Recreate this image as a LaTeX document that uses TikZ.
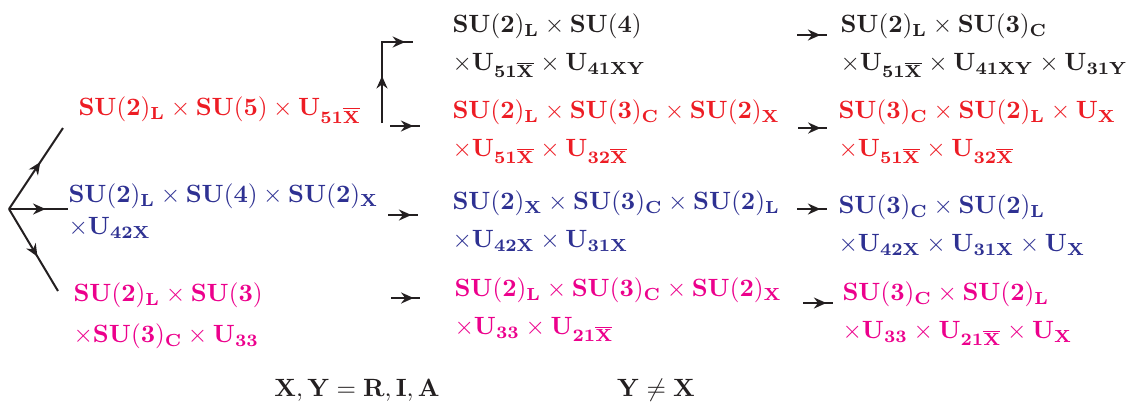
\documentclass[tikz,border=0pt]{standalone}
\usepackage{amsmath,amssymb}
\usepackage{xcolor}
\usepackage{tikz}
\usetikzlibrary{decorations.markings,arrows.meta}
\definecolor{symred}{RGB}{237,28,36}
\definecolor{symblue}{RGB}{46,49,146}
\definecolor{sympink}{RGB}{236,0,140}
\definecolor{symblack}{RGB}{35,31,32}
\begin{document}
\begin{tikzpicture}[
  x=0.4pt,y=-0.4pt,
  >={Stealth[length=5pt,width=4.4pt]},
  grp/.style={anchor=west,inner sep=0pt,align=left,text=#1},
  flow/.style={thick,symblack,postaction={decorate},
    decoration={markings,mark=at position #1 with {\arrow{>}}}},
  flow/.default=0.78,
  note/.style={inner sep=0pt,text=symblack}
]
\useasboundingbox (0,0) rectangle (1126,403);
\node[grp=symred] (r1) at (78,110) {$\mathbf{SU(2)_L\times SU(5)\times U_{51\overline{X}}}$};
\node[grp=symblack] (k2) at (452,46) {$\mathbf{SU(2)_L\times SU(4)}$\\[3pt]$\mathbf{\times U_{51\overline{X}}\times U_{41XY}}$};
\node[grp=symblack] (k3) at (840,46) {$\mathbf{SU(2)_L\times SU(3)_C}$\\[3pt]$\mathbf{\times U_{51\overline{X}}\times U_{41XY}\times U_{31Y}}$};
\node[grp=symred] (r2) at (452,132) {$\mathbf{SU(2)_L\times SU(3)_C\times SU(2)_X}$\\[3pt]$\mathbf{\times U_{51\overline{X}}\times U_{32\overline{X}}}$};
\node[grp=symred] (r3) at (838,132) {$\mathbf{SU(3)_C\times SU(2)_L\times U_X}$\\[3pt]$\mathbf{\times U_{51\overline{X}}\times U_{32\overline{X}}}$};
\node[grp=symblue] (b1) at (68,211) {$\mathbf{SU(2)_L\times SU(4)\times SU(2)_X}$\\[1pt]$\mathbf{\times U_{42X}}$};
\node[grp=symblue] (b2) at (452,221) {$\mathbf{SU(2)_X\times SU(3)_C\times SU(2)_L}$\\[3pt]$\mathbf{\times U_{42X}\times U_{31X}}$};
\node[grp=symblue] (b3) at (838,225) {$\mathbf{SU(3)_C\times SU(2)_L}$\\[3pt]$\mathbf{\times U_{42X}\times U_{31X}\times U_X}$};
\node[grp=sympink] (m1) at (73,316) {$\mathbf{SU(2)_L\times SU(3)}$\\[4.5pt]$\mathbf{\times SU(3)_C\times U_{33}}$};
\node[grp=sympink] (m2) at (454,310) {$\mathbf{SU(2)_L\times SU(3)_C\times SU(2)_X}$\\[3pt]$\mathbf{\times U_{33}\times U_{21\overline{X}}}$};
\node[grp=sympink] (m3) at (842,314) {$\mathbf{SU(3)_C\times SU(2)_L}$\\[3pt]$\mathbf{\times U_{33}\times U_{21\overline{X}}\times U_X}$};
\node[note] (xy) at (357,390) {$\mathbf{X,Y=R,I,A}$};
\node[note] (ynx) at (656,390) {$\mathbf{Y\neq X}$};
\coordinate (f0) at (9,209);
\coordinate (f1) at (63,128);
\coordinate (f2) at (68,209);
\coordinate (f3) at (58,291);
\coordinate (e0) at (382,123);
\coordinate (e1) at (382,42);
\coordinate (e2) at (413,42);
\draw[flow=0.58] (f0) -- (f1);
\draw[flow=0.62] (f0) -- (f2);
\draw[flow=0.58] (f0) -- (f3);
\draw[thick,symblack,postaction={decorate},decoration={markings,
  mark=at position 0.42 with {\arrow{>}},mark=at position 0.93 with {\arrow{>}}}]
  (e0) -- (e1) -- (e2);
\coordinate (a1s) at (390,126); \coordinate (a1e) at (420,126);
\coordinate (a2s) at (797,35);  \coordinate (a2e) at (827,35);
\coordinate (a3s) at (798,128); \coordinate (a3e) at (827,128);
\coordinate (a4s) at (388,215); \coordinate (a4e) at (418,215);
\coordinate (a5s) at (797,209); \coordinate (a5e) at (827,209);
\coordinate (a6s) at (391,298); \coordinate (a6e) at (420,298);
\coordinate (a7s) at (803,303); \coordinate (a7e) at (833,303);
\foreach \i in {1,...,7} \draw[flow] (a\i s) -- (a\i e);
\end{tikzpicture}
\end{document}
